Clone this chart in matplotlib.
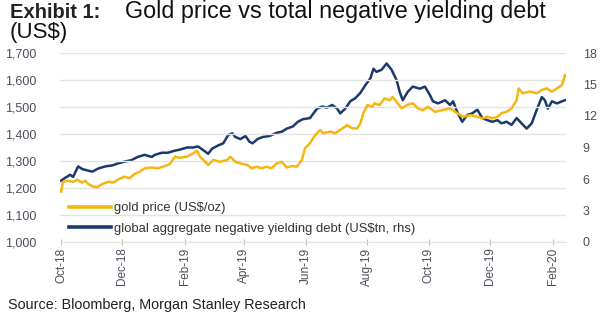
import matplotlib
matplotlib.use("Agg")
import matplotlib.pyplot as plt
import matplotlib.dates as mdates
import matplotlib.ticker as mticker
import pandas as pd

plt.rcParams['font.family'] = ['Liberation Sans', 'DejaVu Sans']

# gold price, US$/oz (left axis)
gold_dates = [
    "2018-10-01", "2018-10-03", "2018-10-08", "2018-10-13", "2018-10-17", "2018-10-22",
    "2018-10-25", "2018-10-28", "2018-11-02", "2018-11-06", "2018-11-11", "2018-11-17",
    "2018-11-22", "2018-11-27", "2018-12-03", "2018-12-08", "2018-12-13", "2018-12-18",
    "2018-12-23", "2018-12-30", "2019-01-05", "2019-01-12", "2019-01-17", "2019-01-22",
    "2019-01-27", "2019-02-03", "2019-02-09", "2019-02-13", "2019-02-16", "2019-02-21",
    "2019-02-24", "2019-03-01", "2019-03-08", "2019-03-15", "2019-03-18", "2019-03-23",
    "2019-03-28", "2019-04-04", "2019-04-08", "2019-04-13", "2019-04-18", "2019-04-23",
    "2019-04-28", "2019-05-03", "2019-05-08", "2019-05-13", "2019-05-18", "2019-05-23",
    "2019-05-28", "2019-05-31", "2019-06-05", "2019-06-10", "2019-06-15", "2019-06-18",
    "2019-06-25", "2019-06-30", "2019-07-05", "2019-07-12", "2019-07-17", "2019-07-22",
    "2019-07-25", "2019-07-28", "2019-08-01", "2019-08-06", "2019-08-08", "2019-08-13",
    "2019-08-18", "2019-08-23", "2019-08-26", "2019-08-31", "2019-09-04", "2019-09-09",
    "2019-09-15", "2019-09-20", "2019-09-25", "2019-09-30", "2019-10-07", "2019-10-15",
    "2019-10-22", "2019-10-29", "2019-11-04", "2019-11-11", "2019-11-18", "2019-11-23",
    "2019-11-28", "2019-12-03", "2019-12-08", "2019-12-12", "2019-12-17", "2019-12-22",
    "2019-12-27", "2019-12-29", "2020-01-02", "2020-01-09", "2020-01-16", "2020-01-21",
    "2020-01-26", "2020-01-31", "2020-02-05", "2020-02-10", "2020-02-13",
]
gold_price = [
    1186, 1223, 1227, 1223, 1230, 1220, 1227, 1215, 1205, 1203, 1215, 1223,
    1220, 1232, 1242, 1236, 1252, 1260, 1273, 1276, 1273, 1281, 1289, 1316,
    1312, 1316, 1328, 1338, 1316, 1297, 1285, 1304, 1297, 1304, 1316, 1297,
    1291, 1285, 1273, 1279, 1273, 1279, 1273, 1291, 1297, 1276, 1281, 1279,
    1304, 1347, 1366, 1395, 1415, 1403, 1409, 1403, 1415, 1433, 1421, 1421,
    1440, 1477, 1507, 1501, 1514, 1507, 1532, 1525, 1537, 1514, 1495, 1507,
    1514, 1495, 1488, 1501, 1482, 1489, 1495, 1477, 1464, 1470, 1464, 1458,
    1464, 1458, 1464, 1477, 1482, 1495, 1525, 1569, 1551, 1557, 1551, 1563,
    1569, 1557, 1569, 1581, 1618,
]

# global aggregate negative yielding debt, US$tn (right axis)
debt_dates = [
    "2018-10-01", "2018-10-05", "2018-10-10", "2018-10-13", "2018-10-18", "2018-10-22",
    "2018-10-28", "2018-11-01", "2018-11-07", "2018-11-14", "2018-11-21", "2018-11-27",
    "2018-12-03", "2018-12-10", "2018-12-16", "2018-12-23", "2018-12-30", "2019-01-02",
    "2019-01-09", "2019-01-15", "2019-01-22", "2019-01-27", "2019-02-03", "2019-02-09",
    "2019-02-14", "2019-02-19", "2019-02-24", "2019-02-28", "2019-03-06", "2019-03-11",
    "2019-03-16", "2019-03-20", "2019-03-23", "2019-03-28", "2019-04-02", "2019-04-06",
    "2019-04-09", "2019-04-14", "2019-04-19", "2019-04-26", "2019-05-03", "2019-05-08",
    "2019-05-13", "2019-05-19", "2019-05-24", "2019-05-29", "2019-06-05", "2019-06-12",
    "2019-06-17", "2019-06-22", "2019-06-27", "2019-07-02", "2019-07-05", "2019-07-10",
    "2019-07-15", "2019-07-20", "2019-07-25", "2019-07-30", "2019-08-04", "2019-08-07",
    "2019-08-10", "2019-08-15", "2019-08-20", "2019-08-25", "2019-08-30", "2019-09-02",
    "2019-09-05", "2019-09-10", "2019-09-15", "2019-09-22", "2019-09-27", "2019-10-02",
    "2019-10-05", "2019-10-10", "2019-10-17", "2019-10-22", "2019-10-25", "2019-10-29",
    "2019-11-03", "2019-11-08", "2019-11-13", "2019-11-18", "2019-11-23", "2019-11-28",
    "2019-12-03", "2019-12-08", "2019-12-12", "2019-12-17", "2019-12-22", "2019-12-27",
    "2020-01-01", "2020-01-06", "2020-01-11", "2020-01-16", "2020-01-21", "2020-01-24",
    "2020-01-27", "2020-01-31", "2020-02-05", "2020-02-10", "2020-02-13",
]
neg_debt = [
    5.84, 6.1, 6.4, 6.2, 7.2, 6.95, 6.8, 6.7, 7.0, 7.2, 7.3, 7.5,
    7.65, 7.8, 8.1, 8.3, 8.1, 8.3, 8.5, 8.5, 8.7, 8.8, 9.0, 9.0,
    9.1, 8.76, 8.4, 8.9, 9.2, 9.4, 10.2, 10.35, 10.0, 9.8, 10.1, 9.55,
    9.4, 9.8, 10.0, 10.1, 10.4, 10.5, 10.8, 11.0, 11.45, 11.7, 11.8, 12.7,
    12.9, 12.8, 13.05, 12.7, 12.25, 12.7, 13.4, 13.7, 14.2, 14.95, 15.6, 16.5,
    16.2, 16.4, 17.0, 16.4, 15.4, 14.3, 13.5, 14.3, 14.8, 14.6, 14.8, 14.0,
    13.4, 13.2, 13.5, 13.05, 13.4, 12.4, 11.45, 12.1, 12.25, 12.6, 11.8, 11.6,
    11.45, 11.6, 11.3, 11.45, 11.15, 11.8, 11.3, 10.8, 11.3, 12.6, 13.8, 13.5,
    12.7, 13.4, 13.2, 13.4, 13.5,
]

left_ticks = [1000, 1100, 1200, 1300, 1400, 1500, 1600, 1700]
right_ticks = [0, 3, 6, 9, 12, 15, 18]

GOLD = '#F5B60F'
NAVY = '#1B3A6B'
LABEL = '#4D4D5C'
GRID = '#E3E3E3'

fig = plt.figure(figsize=(6.02, 3.22), dpi=100)
ax = fig.add_axes([60 / 602, 1 - 242 / 322, (566 - 60) / 602, (242 - 53) / 322])
ax2 = ax.twinx()

gd = pd.to_datetime(gold_dates)
dd = pd.to_datetime(debt_dates)

l1, = ax.plot(gd, gold_price, color=GOLD, lw=1.8, label='gold price (US$/oz)')
l2, = ax2.plot(dd, neg_debt, color=NAVY, lw=1.8,
               label='global aggregate negative yielding debt (US$tn, rhs)')
ax.set_zorder(ax2.get_zorder() + 1)
ax.patch.set_visible(False)

ax.set_ylim(1000, 1700)
ax.set_yticks(left_ticks)
ax.yaxis.set_major_formatter(mticker.StrMethodFormatter('{x:,.0f}'))
ax2.set_ylim(0, 18)
ax2.set_yticks(right_ticks)

ax.set_xlim(pd.Timestamp('2018-09-30'), pd.Timestamp('2020-02-14'))
ax.xaxis.set_major_locator(mdates.MonthLocator(bymonth=[2, 4, 6, 8, 10, 12]))
ax.xaxis.set_major_formatter(mdates.DateFormatter('%b-%y'))

ax.grid(axis='y', color=GRID, lw=1)
for a in (ax, ax2):
    for s in a.spines.values():
        s.set_visible(False)
ax.spines['bottom'].set_visible(True)
ax.spines['bottom'].set_color(GRID)

ax.tick_params(axis='y', length=0, pad=17, labelsize=9, labelcolor=LABEL)
ax2.tick_params(axis='y', length=0, pad=12, labelsize=9, labelcolor=LABEL)
ax.tick_params(axis='x', direction='inout', length=4, color='#BFBFBF',
               labelsize=8.5, labelcolor=LABEL, labelrotation=90, pad=2)
for t in ax2.get_yticklabels():
    t.set_horizontalalignment('left')

leg = ax.legend(handles=[l1, l2], loc='lower left', bbox_to_anchor=(0.0, -0.01),
                frameon=False, fontsize=9.4, handlelength=3.2, handletextpad=0.25,
                labelspacing=0.65, borderaxespad=0.3)
for t in leg.get_texts():
    t.set_color('#333333')
for h in leg.get_lines():
    h.set_linewidth(2.6)

fig.text(10 / 602, 1 - 18 / 322, 'Exhibit 1:', fontsize=14.5, fontweight='bold',
         color='#222222', va='baseline')
fig.text(125 / 602, 1 - 18 / 322, 'Gold price vs total negative yielding debt',
         fontsize=16.8, color='#111111', va='baseline')
fig.text(10 / 602, 1 - 38 / 322, '(US$)', fontsize=16, color='#111111', va='baseline')
fig.text(8 / 602, 1 - 309 / 322, 'Source: Bloomberg, Morgan Stanley Research',
         fontsize=10.4, color='#222222', va='baseline')

fig.savefig('out.png', dpi=100)
